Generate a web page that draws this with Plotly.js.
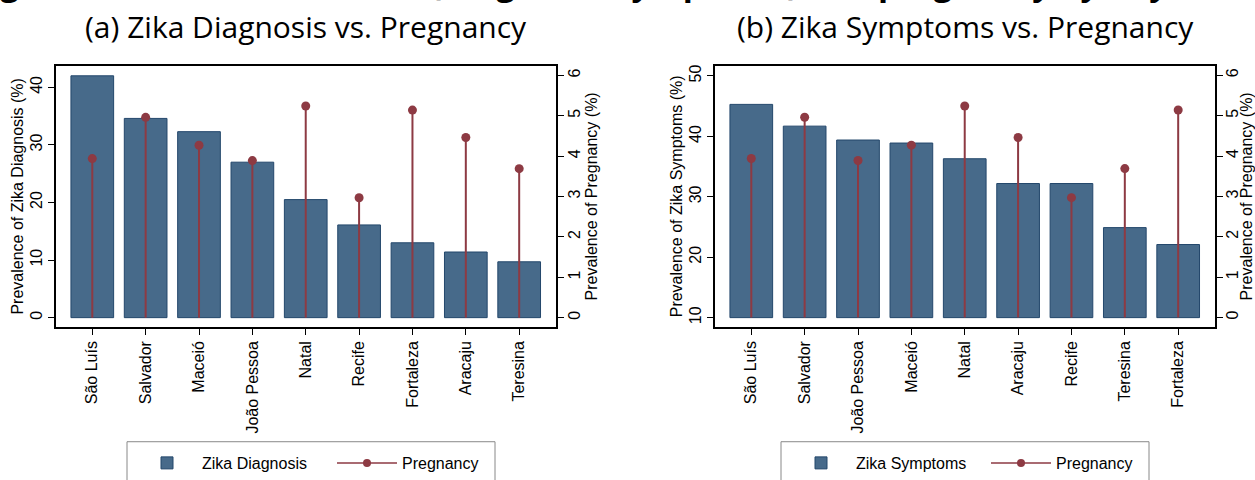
<!DOCTYPE html>
<html>
<head>
<meta charset="utf-8">
<script src="https://cdn.plot.ly/plotly-3.0.1.min.js"></script>
<style>
  html, body { margin: 0; padding: 0; background: #fff; }
  #chart { width: 1255px; height: 480px; }
</style>
</head>
<body>
<div id="chart"></div>
<script>
// ---- Data ----
const citiesA = ["São Luís", "Salvador", "Maceió", "João Pessoa", "Natal", "Recife", "Fortaleza", "Aracaju", "Teresina"];
const diagnosisA = [42.0, 34.6, 32.3, 27.0, 20.5, 16.1, 13.0, 11.4, 9.7];
const pregnancyA = [3.94, 4.96, 4.27, 3.89, 5.24, 2.97, 5.14, 4.46, 3.69];

const citiesB = ["São Luís", "Salvador", "João Pessoa", "Maceió", "Natal", "Aracaju", "Recife", "Teresina", "Fortaleza"];
const symptomsB = [45.3, 41.7, 39.4, 38.9, 36.3, 32.2, 32.2, 24.9, 22.1];
const pregnancyB = [3.94, 4.96, 3.89, 4.27, 5.24, 4.46, 2.97, 3.69, 5.14];
const symptomsBase = 10;

const ticksLeftA = [0, 10, 20, 30, 40];
const ticksLeftB = [10, 20, 30, 40, 50];
const ticksPreg = [0, 1, 2, 3, 4, 5, 6];

// ---- Styles ----
const BAR = "#476a8a";
const BAR_LINE = "#23476b";
const RED = "#8d3a43";
const AX = "Liberation Sans, Arial, sans-serif";
const TFONT = "Open Sans, Noto Sans, sans-serif";
const W = 1255, H = 480;

function stems(xa, ya, cats, vals, lg) {
  return {
    type: "scatter", mode: "markers", x: cats, y: vals,
    xaxis: xa, yaxis: ya, showlegend: false, legend: lg,
    marker: { color: RED, size: 9 },
    error_y: { type: "data", symmetric: false, array: vals.map(() => 0), arrayminus: vals,
               width: 0, thickness: 2, color: RED },
    cliponaxis: false
  };
}
function legendProxy(xa, ya, lg) {
  return {
    type: "scatter", mode: "lines+markers", x: [null], y: [null],
    xaxis: xa, yaxis: ya, name: "Pregnancy", legend: lg,
    line: { color: RED, width: 1.5 }, marker: { color: RED, size: 8 }
  };
}

const traces = [
  { type: "bar", x: citiesA, y: diagnosisA, xaxis: "x", yaxis: "y", name: "Zika Diagnosis",
    legend: "legend", width: 0.8,
    marker: { color: BAR, line: { color: BAR_LINE, width: 1 } } },
  stems("x", "y2", citiesA, pregnancyA, "legend"),
  legendProxy("x", "y2", "legend"),
  { type: "bar", x: citiesB, y: symptomsB.map(v => v - symptomsBase), base: symptomsBase,
    xaxis: "x2", yaxis: "y3", name: "Zika Symptoms", legend: "legend2", width: 0.8,
    marker: { color: BAR, line: { color: BAR_LINE, width: 1 } } },
  stems("x2", "y4", citiesB, pregnancyB, "legend2"),
  legendProxy("x2", "y4", "legend2")
];

const xCommon = {
  type: "category", range: [-0.68, 8.69], showline: true, linecolor: "#000", linewidth: 2,
  mirror: true, ticks: "outside", ticklen: 6, tickcolor: "#000", tickwidth: 1,
  tickangle: -90, tickfont: { family: AX, size: 16, color: "#000" },
  showgrid: false, zeroline: false, fixedrange: true
};
const yCommon = {
  showline: true, linecolor: "#000", linewidth: 2, ticks: "outside", ticklen: 6,
  tickcolor: "#000", tickwidth: 1, tickangle: -90,
  tickfont: { family: AX, size: 16, color: "#000" }, showgrid: false, zeroline: false,
  fixedrange: true
};
const yDom = [1 - 336.5 / H, 1 - 68 / H];
const titleFont = { family: AX, size: 16, color: "#000" };

function legendBox(x0, x1) {
  return { type: "rect", xref: "paper", yref: "paper", x0: x0 / W, x1: x1 / W,
           y0: 1 - 500 / H, y1: 1 - 455 / H, line: { color: "#888", width: 1 }, fillcolor: "rgba(0,0,0,0)" };
}
function legendCfg(x) {
  return {
    orientation: "h", x: x / W, xanchor: "left", y: -0.03, yanchor: "bottom",
    borderwidth: 0, bgcolor: "rgba(0,0,0,0)", itemwidth: 60,
    font: { family: AX, size: 16, color: "#000" }, entrywidth: 125,
    itemclick: false, itemdoubleclick: false
  };
}

const layout = {
  width: W, height: H,
  margin: { l: 0, r: 0, t: 0, b: 0 },
  paper_bgcolor: "#fff", plot_bgcolor: "#fff",
  showlegend: true,
  xaxis: Object.assign({}, xCommon, { domain: [56 / W, 556 / W], anchor: "y" }),
  xaxis2: Object.assign({}, xCommon, { domain: [715 / W, 1215 / W], anchor: "y3" }),
  yaxis: Object.assign({}, yCommon, { domain: yDom, anchor: "x", range: [-1.57, 43.7],
    tickvals: ticksLeftA,
    title: { text: "Prevalence of Zika Diagnosis (%)", font: titleFont, standoff: 0 } }),
  yaxis2: Object.assign({}, yCommon, { overlaying: "y", side: "right", anchor: "x",
    range: [-0.22, 6.23], tickvals: ticksPreg, ticklabelstandoff: -3,
    title: { text: "Prevalence of Pregnancy (%)", font: titleFont, standoff: 0 } }),
  yaxis3: Object.assign({}, yCommon, { domain: yDom, anchor: "x2", range: [8.5, 51.65],
    tickvals: ticksLeftB,
    title: { text: "Prevalence of Zika Symptoms (%)", font: titleFont, standoff: 0 } }),
  yaxis4: Object.assign({}, yCommon, { overlaying: "y3", side: "right", anchor: "x2",
    range: [-0.226, 6.23], tickvals: ticksPreg, ticklabelstandoff: -4,
    title: { text: "Prevalence of Pregnancy (%)", font: titleFont, standoff: 0 } }),
  legend: legendCfg(132),
  legend2: legendCfg(786),
  shapes: [legendBox(127, 495), legendBox(781, 1149)],
  annotations: [
    { text: "Figure 2. Prevalence of Zika (Diagnosis/Symptoms) and pregnancy by city.",
      xref: "paper", yref: "paper", x: -30 / W, xanchor: "left", y: 1 - 7 / H, yanchor: "bottom",
      showarrow: false, font: { family: TFONT, size: 33, color: "#000", weight: "bold" } },
    { text: "(a) Zika Diagnosis vs. Pregnancy", xref: "paper", yref: "paper",
      x: 306 / W, xanchor: "center", y: 1 - 27 / H, yanchor: "middle", showarrow: false,
      font: { family: TFONT, size: 30, color: "#000" } },
    { text: "(b) Zika Symptoms vs. Pregnancy", xref: "paper", yref: "paper",
      x: 965 / W, xanchor: "center", y: 1 - 27 / H, yanchor: "middle", showarrow: false,
      font: { family: TFONT, size: 30, color: "#000" } }
  ]
};

Plotly.newPlot("chart", traces, layout, { displayModeBar: false, staticPlot: true });
</script>
</body>
</html>
